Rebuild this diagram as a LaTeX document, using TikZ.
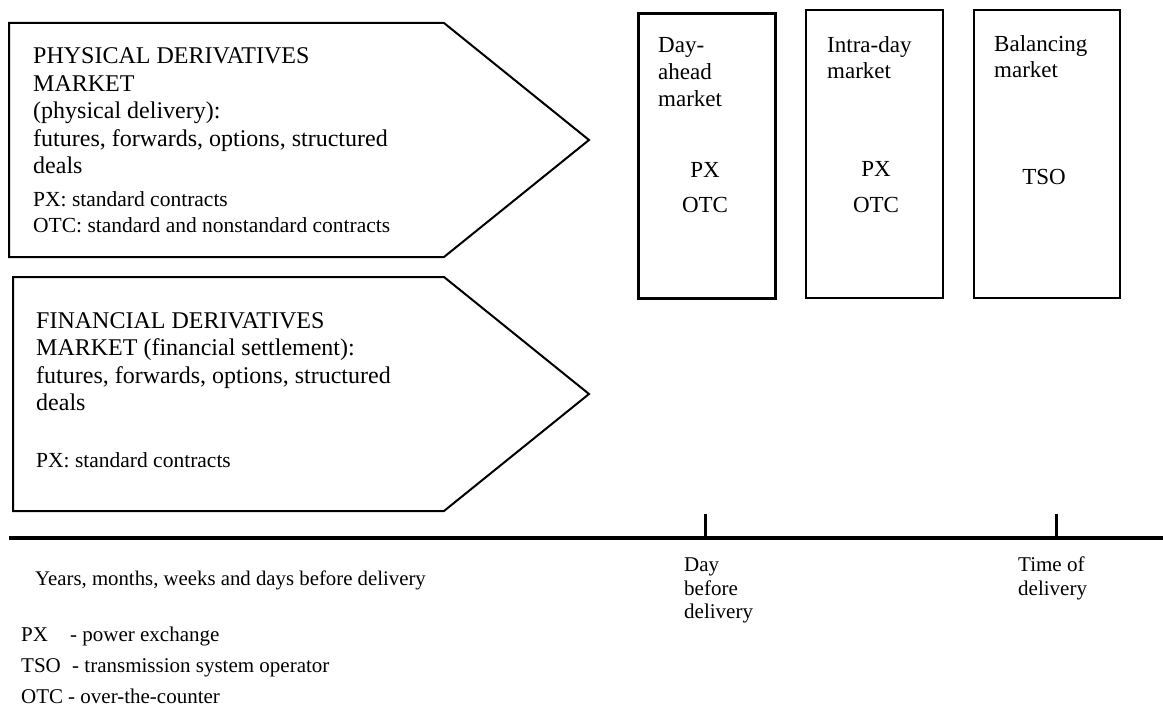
\documentclass[tikz,border=0pt]{standalone}
\usepackage{fontspec}
\setmainfont{Liberation Serif}
\begin{document}
\begin{tikzpicture}[x=1pt,y=-1pt,
  big/.style={font=\fontsize{24}{27.5}\selectfont, inner sep=0pt, anchor=base west},
  small/.style={font=\fontsize{21.5}{26}\selectfont, inner sep=0pt, anchor=base west},
  boxtxt/.style={font=\fontsize{23}{27}\selectfont, inner sep=0pt, anchor=base west},
  boxmid/.style={font=\fontsize{23}{27}\selectfont, inner sep=0pt, anchor=base},
  axtxt/.style={font=\fontsize{21}{23}\selectfont, inner sep=0pt, anchor=base west},
  legtxt/.style={font=\fontsize{21}{23}\selectfont, inner sep=0pt, anchor=base west},
  outline/.style={line width=2pt, line join=miter, draw=black},
  mrect/.style={draw=black, inner sep=0pt, anchor=north west},
]
\useasboundingbox (0,0) rectangle (1163,706);

% pentagon arrows
\draw[outline] (9,23) -- (444,23) -- (589,140) -- (444,257) -- (9,257) -- cycle;
\draw[outline] (13,277) -- (444,277) -- (589,394) -- (444,511) -- (13,511) -- cycle;

% physical derivatives text
\node[big] (p1) at (33,64) {PHYSICAL DERIVATIVES};
\node[big] (p2) at (33,92) {MARKET};
\node[big] (p3) at (33,119) {(physical delivery):};
\node[big] (p4) at (33,147) {futures, forwards, options, structured};
\node[big] (p5) at (33,174) {deals};
\node[small] (p6) at (33,207) {PX: standard contracts};
\node[small] (p7) at (33,233) {OTC: standard and nonstandard contracts};

% financial derivatives text
\node[big] (f1) at (36,328) {FINANCIAL DERIVATIVES};
\node[big] (f2) at (36,355) {MARKET (financial settlement):};
\node[big] (f3) at (36,383) {futures, forwards, options, structured};
\node[big] (f4) at (36,410) {deals};
\node[small] (f5) at (36,467) {PX: standard contracts};

% market rectangles
\node[mrect, line width=3pt, minimum width=137pt, minimum height=285pt] (dayahead) at (637,12) {};
\node[mrect, line width=2pt, minimum width=137pt, minimum height=288pt] (intraday) at (805,9) {};
\node[mrect, line width=2pt, minimum width=146pt, minimum height=288pt] (balancing) at (973,9) {};

\node[boxtxt] (da1) at (658,53) {Day-};
\node[boxtxt] (da2) at (658,80) {ahead};
\node[boxtxt] (da3) at (658,107) {market};
\node[boxmid] (da4) at (705,178) {PX};
\node[boxmid] (da5) at (705,213) {OTC};

\node[boxtxt] (id1) at (827,53) {Intra-day};
\node[boxtxt] (id2) at (827,79) {market};
\node[boxmid] (id3) at (876,177) {PX};
\node[boxmid] (id4) at (876,212) {OTC};

\node[boxtxt] (bm1) at (994,52) {Balancing};
\node[boxtxt] (bm2) at (994,78) {market};
\node[boxmid] (bm3) at (1044,185) {TSO};

% time axis
\coordinate (ax0) at (9,538);
\coordinate (ax1) at (1163,538);
\coordinate (t1) at (705,538);
\coordinate (t1top) at (705,514);
\coordinate (t2) at (1056,538);
\coordinate (t2top) at (1056,514);
\draw[line width=3.5pt] (ax0) -- (ax1);
\draw[line width=3pt] (t1) -- (t1top);
\draw[line width=3pt] (t2) -- (t2top);

\node[axtxt, font=\fontsize{20.8}{23}\selectfont] (years) at (35,585) {Years, months, weeks and days before delivery};
\node[axtxt] (db1) at (684,571) {Day};
\node[axtxt] (db2) at (684,595) {before};
\node[axtxt] (db3) at (684,618) {delivery};
\node[axtxt] (td1) at (1018,571) {Time of};
\node[axtxt] (td2) at (1018,595) {delivery};

% legend
\node[legtxt] (lpx) at (21,641) {PX};
\node[legtxt] (lpxd) at (70,641) {- power exchange};
\node[legtxt] (ltso) at (21,672) {TSO};
\node[legtxt] (ltsod) at (72,672) {- transmission system operator};
\node[legtxt] (lotc) at (21,703) {OTC};
\node[legtxt] (lotcd) at (68,703) {- over-the-counter};
\end{tikzpicture}
\end{document}
